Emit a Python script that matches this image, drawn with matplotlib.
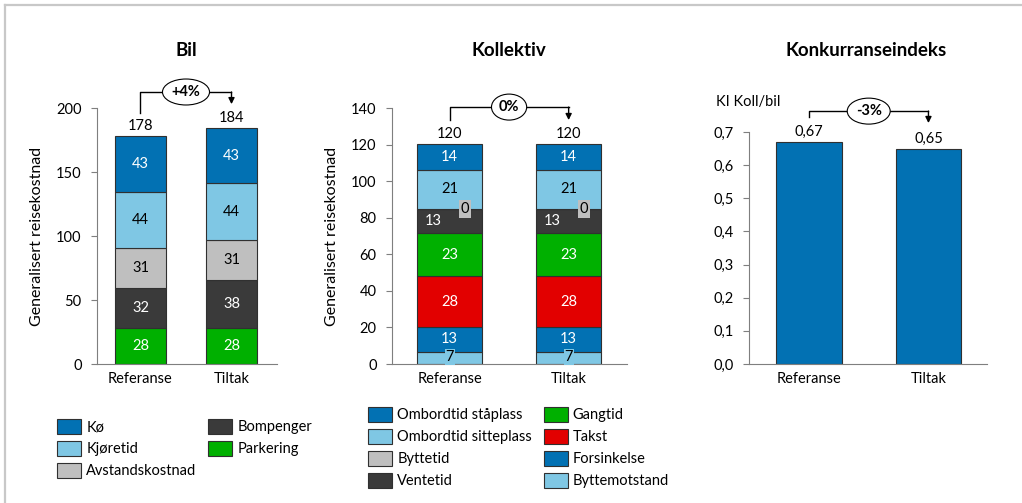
import matplotlib
matplotlib.use("Agg")
import matplotlib.pyplot as plt
from matplotlib.patches import Patch
from matplotlib.lines import Line2D

plt.rcParams['font.family'] = ['Lato', 'DejaVu Sans']

# ---- data ----
scenarios = ["Referanse", "Tiltak"]

bil_parts = ["Parkering", "Bompenger", "Avstandskostnad", "Kjøretid", "Kø"]
bil_ref = [28.0, 31.6, 31.0, 44.0, 43.4]
bil_tiltak = [28.0, 37.8, 31.2, 44.1, 43.1]
bil_totals = [178, 184]
bil_change = "+4%"

koll_parts = ["Byttemotstand", "Forsinkelse", "Takst", "Gangtid", "Ventetid",
              "Byttetid", "Ombordtid sitteplass", "Ombordtid ståplass"]
koll_ref = [6.8, 13.3, 27.9, 23.4, 13.3, 0.2, 21.2, 14.2]
koll_tiltak = [6.8, 13.3, 27.9, 23.4, 13.3, 0.2, 21.2, 14.2]
koll_totals = [120, 120]
koll_change = "0%"

ki_values = [0.67, 0.65]
ki_change = "-3%"

# ---- styling ----
BLUE = "#0271B3"
LIGHT = "#7FC7E4"
GREY = "#BFBFBF"
DARK = "#3A3A3A"
GREEN = "#00B000"
RED = "#E20000"
EDGE = "#303030"
AXC = "#7F7F7F"

bil_colors = {"Kø": BLUE, "Kjøretid": LIGHT, "Avstandskostnad": GREY,
              "Bompenger": DARK, "Parkering": GREEN}
bil_txt = {"Kø": "white", "Kjøretid": "black", "Avstandskostnad": "black",
           "Bompenger": "white", "Parkering": "white"}
koll_colors = {"Ombordtid ståplass": BLUE, "Ombordtid sitteplass": LIGHT,
               "Byttetid": GREY, "Ventetid": DARK, "Gangtid": GREEN,
               "Takst": RED, "Forsinkelse": BLUE, "Byttemotstand": LIGHT}
koll_txt = {"Ombordtid ståplass": "white", "Ombordtid sitteplass": "black",
            "Byttetid": "black", "Ventetid": "white", "Gangtid": "white",
            "Takst": "white", "Forsinkelse": "white", "Byttemotstand": "black"}

FS = 10.5
TITLE_FS = 13.5
W, H = 1022, 503
fig = plt.figure(figsize=(W / 100, H / 100), dpi=100)

def px_axes(left, right, top, bottom):
    return fig.add_axes([left / W, 1 - bottom / H, (right - left) / W, (bottom - top) / H])

def style(ax, ymax, step, fmt):
    for s in ("top", "right"):
        ax.spines[s].set_visible(False)
    ax.spines["left"].set_color(AXC)
    ax.spines["bottom"].set_color(AXC)
    ax.set_ylim(0, ymax)
    ticks = [i * step for i in range(int(round(ymax / step)) + 1)]
    ax.set_yticks(ticks)
    ax.set_yticklabels([fmt(t) for t in ticks], fontsize=FS)
    ax.tick_params(axis="y", length=4, color=AXC, pad=7)
    ax.tick_params(axis="x", length=0, pad=6, labelsize=FS)
    ax.set_xticks([0, 1])
    ax.set_xticklabels(scenarios)

def bracket(ax, y_start, y_top, y_end, label):
    ax.plot([0, 0, 1], [y_start, y_top, y_top], color="black", lw=1.0, clip_on=False)
    ax.annotate("", xy=(1, y_end), xytext=(1, y_top + 0.0001),
                arrowprops=dict(arrowstyle="-|>", color="black", lw=1.0,
                                mutation_scale=9, shrinkA=0, shrinkB=0),
                annotation_clip=False)
    ax.text(0.5, y_top, label, ha="center", va="center", fontsize=FS,
            fontweight="bold",
            bbox=dict(boxstyle="ellipse,pad=0.15", fc="white", ec="black", lw=0.8),
            clip_on=False)

# ---- Bil ----
ax1 = px_axes(97, 277, 108, 364)
style(ax1, 200, 50, lambda t: f"{t:.0f}")
ax1.set_xlim(-0.478, 1.5)
bw1 = 0.56
for i, vals in enumerate([bil_ref, bil_tiltak]):
    bottom = 0
    for name, v in zip(bil_parts, vals):
        ax1.bar(i, v, bw1, bottom=bottom, color=bil_colors[name], edgecolor=EDGE, lw=0.8)
        ax1.text(i, bottom + v / 2, f"{v:.0f}", ha="center", va="center",
                 color=bil_txt[name], fontsize=FS)
        bottom += v
    ax1.annotate(f"{bil_totals[i]}", xy=(i, bottom), xytext=(0, 2),
                 textcoords="offset points", ha="center", va="bottom", fontsize=FS)
ax1.set_ylabel("Generalisert reisekostnad", fontsize=11.5, labelpad=9)
bracket(ax1, 196, 212.5, 203, bil_change)
fig.text(186 / W, 1 - 50 / H, "Bil", ha="center", va="center",
         fontsize=TITLE_FS, fontweight="bold")

# ---- Kollektiv ----
ax2 = px_axes(392, 627, 108, 364)
style(ax2, 140, 20, lambda t: f"{t:.0f}")
ax2.set_xlim(-0.483, 1.49)
bw2 = 0.546
for i, vals in enumerate([koll_ref, koll_tiltak]):
    bottom = 0
    for name, v in zip(koll_parts, vals):
        ax2.bar(i, v, bw2, bottom=bottom, color=koll_colors[name], edgecolor=EDGE, lw=0.8)
        kw = dict(ha="center", va="center", color=koll_txt[name], fontsize=FS)
        x, y = i, bottom + v / 2
        if name == "Byttetid":
            x, y = i + 0.13, bottom
            kw["bbox"] = dict(boxstyle="square,pad=0.12", fc=GREY, ec="none")
        elif name == "Ventetid":
            x = i - 0.14
        elif name == "Byttemotstand":
            y = bottom + v / 2 + 0.4
            kw["bbox"] = dict(boxstyle="square,pad=0.05", fc=LIGHT, ec="none")
        ax2.text(x, y, f"{v:.0f}", **kw)
        bottom += v
    ax2.annotate(f"{koll_totals[i]}", xy=(i, bottom), xytext=(0, 2),
                 textcoords="offset points", ha="center", va="bottom", fontsize=FS)
ax2.set_ylabel("Generalisert reisekostnad", fontsize=11.5, labelpad=9)
bracket(ax2, 133.4, 140.5, 133.4, koll_change)
fig.text(509 / W, 1 - 50 / H, "Kollektiv", ha="center", va="center",
         fontsize=TITLE_FS, fontweight="bold")

# ---- Konkurranseindeks ----
ax3 = px_axes(749, 987, 132, 364)
style(ax3, 0.7, 0.1, lambda t: f"{t:.1f}".replace(".", ","))
ax3.set_xlim(-0.502, 1.49)
ax3.bar([0, 1], ki_values, 0.55, color=BLUE, edgecolor=EDGE, lw=0.8)
for i, v in enumerate(ki_values):
    ax3.annotate(f"{v:.2f}".replace(".", ","), xy=(i, v), xytext=(0, 2),
                 textcoords="offset points", ha="center", va="bottom", fontsize=FS)
bracket(ax3, 0.745, 0.763, 0.727, ki_change)
fig.text(748 / W, 1 - 102 / H, "KI Koll/bil", ha="center", va="center", fontsize=FS)
fig.text(866 / W, 1 - 50 / H, "Konkurranseindeks", ha="center", va="center",
         fontsize=TITLE_FS, fontweight="bold")

# ---- legends ----
def legend(names, colors, anchor_px):
    handles = [Patch(facecolor=colors[n], edgecolor=EDGE, lw=0.8, label=n) for n in names]
    fig.legend(handles=handles, ncol=2, loc="upper left",
               bbox_to_anchor=(anchor_px[0] / W, 1 - anchor_px[1] / H),
               frameon=False, fontsize=FS, handlelength=1.65, handleheight=1.2,
               handletextpad=0.35, labelspacing=0.45, columnspacing=0.8,
               borderpad=0, borderaxespad=0)

legend(["Kø", "Kjøretid", "Avstandskostnad", "Bompenger", "Parkering"],
       bil_colors, (57, 419))
legend(["Ombordtid ståplass", "Ombordtid sitteplass", "Byttetid", "Ventetid",
        "Gangtid", "Takst", "Forsinkelse", "Byttemotstand"],
       koll_colors, (368, 407))

# ---- frame lines ----
fig.add_artist(Line2D([5 / W, 1], [1 - 5 / H, 1 - 5 / H], color="#C8C8C8", lw=1.6))
fig.add_artist(Line2D([5 / W, 5 / W], [0, 1 - 5 / H], color="#C8C8C8", lw=1.6))

fig.savefig("out.png", dpi=100)
